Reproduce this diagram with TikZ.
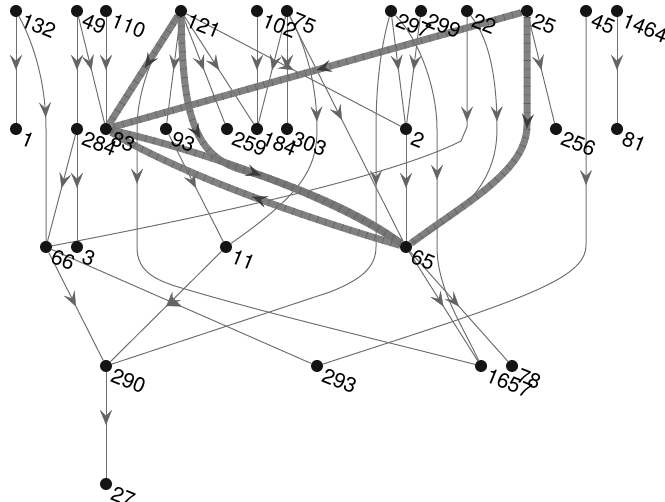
\documentclass[tikz,border=0pt]{standalone}
\usepackage{fontspec}
\setmainfont{TeX Gyre Heros}
\usetikzlibrary{arrows.meta,decorations.markings,backgrounds}
\definecolor{edgegray}{RGB}{112,112,112}
\definecolor{thickgray}{RGB}{118,118,118}
\definecolor{tickgray}{RGB}{92,92,92}
\definecolor{arrowgray}{RGB}{100,100,100}
\definecolor{thickarrow}{RGB}{60,60,60}
\tikzset{
  x=1pt, y=-1pt,
  dot/.style={circle, fill=black!92, inner sep=0pt, minimum size=12pt},
  lbl/.style={anchor=north west, rotate=-22, inner sep=0pt, font=\fontsize{21}{21}\selectfont},
  tipthin/.tip={Stealth[length=15pt, width=12pt, inset=6pt, line width=0.3pt, color=arrowgray]},
  tipthick/.tip={Stealth[length=15pt, width=12pt, inset=6pt, line width=0.3pt, color=thickarrow]},
  edge/.style={draw=edgegray, line width=1pt},
  thickedge/.style={draw=thickgray, line width=7pt, draw opacity=0.92,
    postaction={draw=tickgray, line width=7pt, dash pattern=on 0.6pt off 8pt}},
  arr/.style={postaction={decorate, decoration={markings, mark=at position #1 with {\arrow{tipthin}}}}},
  arrT/.style={postaction={decorate, decoration={markings, mark=at position #1 with {\arrow{tipthick}}}}},
}
\begin{document}
\begin{tikzpicture}
\useasboundingbox (0,0) rectangle (665,502);
% nodes with labels
\foreach \n/\x/\y in {132/16/11, 49/77/11, 110/106/11, 121/181/11, 102/257/11, 75/287/11,
  297/391/11, 299/421/11, 22/467/11, 25/527/11, 45/586/11, 1464/617/11,
  1/16/129, 284/77/129, 83/106/129, 93/166/129, 259/227/129, 184/257/129, 303/287/129,
  2/406/129, 256/556/129, 81/617/129, 66/46/247, 3/77/247, 11/226/247, 65/406/247,
  290/106/366, 293/317/366, 1657/481/366, 78/512/366, 27/106/484}{
  \node[dot] (n\n) at (\x,\y) {};
  \node[lbl] (l\n) at (\x+9,\y+1) {\n};
}
\begin{scope}[on background layer]
% thin edges
\draw[edge,arr=0.5] (n132) -- (n1);
\draw[edge,arr=0.46] (n132) .. controls (32,40) and (46,80) .. (46,129) -- (n66);
\draw[edge,arr=0.5] (n49) -- (n284);
\draw[edge,arr=0.5] (n49) -- (n83);
\draw[edge,arr=0.5] (n110) -- (n83);
\draw[edge,arr=0.5] (n121) -- (n93);
\draw[edge,arr=0.5] (n121) -- (n259);
\draw[edge,arr=0.5] (n121) -- (n184);
\draw[edge,arr=0.5] (n121) -- (n2);
\draw[edge,arr=0.29] (n121) .. controls (155,45) and (137,90) .. (137,129) -- (137,247)
   .. controls (137,268) and (150,278) .. (175,286) .. controls (260,312) and (400,345) .. (n1657);
\draw[edge,arr=0.5] (n102) -- (n184);
\draw[edge,arr=0.5] (n75) -- (n184);
\draw[edge,arr=0.5] (n75) -- (n303);
\draw[edge,arr=0.41] (n75) .. controls (308,50) and (317,90) .. (317,129) .. controls (317,170) and (300,195) .. (n11);
\draw[edge,arr=0.46] (n75) -- (n65);
\draw[edge,arr=0.5] (n297) -- (n2);
\draw[edge,arr=0.5] (n299) -- (n2);
\draw[edge,arr=0.32] (n297) .. controls (380,50) and (376,90) .. (376,129) -- (376,247)
   .. controls (376,268) and (360,280) .. (330,292) -- (n290);
\draw[edge,arr=0.48] (n297) .. controls (420,40) and (437,90) .. (437,129) -- (437,247)
   .. controls (437,290) and (465,330) .. (n1657);
\draw[edge,arr=0.5] (n2) -- (n65);
\draw[edge,arr=0.19] (n22) -- (467,127) -- (461,141) .. controls (400,172) and (250,208) .. (n66);
\draw[edge,arr=0.41] (n22) .. controls (490,40) and (497,80) .. (497,129) .. controls (497,185) and (460,215) .. (n65);
\draw[edge,arr=0.5] (n25) -- (n256);
\draw[edge,arr=0.32] (n45) -- (586,245) .. controls (586,280) and (520,300) .. (n293);
\draw[edge,arr=0.5] (n1464) -- (n81);
\draw[edge,arr=0.5] (n284) -- (n66);
\draw[edge,arr=0.5] (n284) -- (n3);
\draw[edge,arr=0.5] (n93) -- (n11);
\draw[edge,arr=0.5] (n66) -- (n290);
\draw[edge,arr=0.5] (n66) -- (n293);
\draw[edge,arr=0.5] (n11) -- (n290);
\draw[edge,arr=0.5] (n65) -- (n1657);
\draw[edge,arr=0.5] (n65) -- (n78);
\draw[edge,arr=0.5] (n290) -- (n27);
% thick edges
\draw[thickedge,arrT=0.48] (n121) -- (n83);
\draw[thickedge,arrT=0.5] (n25) -- (n83);
\draw[thickedge,arrT=0.40] (n25) -- (527,125) .. controls (527,170) and (470,200) .. (n65);
\draw[thickedge,arrT=0.35] (n121) .. controls (183,120) and (195,160) .. (250,172) .. controls (320,195) and (370,220) .. (n65);
\draw[thickedge,arrT=0.5] (n83) .. controls (200,150) and (330,195) .. (n65);
\draw[thickedge,arrT=0.5] (n65) .. controls (330,225) and (190,180) .. (n83);
\end{scope}
\end{tikzpicture}
\end{document}
